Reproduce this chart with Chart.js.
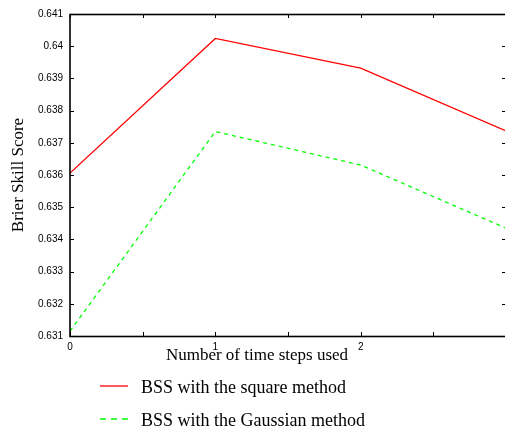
<!DOCTYPE html>
<html>
<head>
<meta charset="utf-8">
<script src="https://cdn.jsdelivr.net/npm/chart.js@4.4.1/dist/chart.umd.min.js"></script>
<style>
  html, body { margin: 0; padding: 0; background: #fff; }
  #wrap { width: 505px; height: 430px; overflow: hidden; }
  canvas { display: block; }
</style>
</head>
<body>
<div id="wrap"><canvas id="bss" width="512" height="430"></canvas></div>
<script>
// time steps used and the Brier skill score of each method
var steps = [0, 1, 2, 3];
var squareBss = [0.63606, 0.64024, 0.63932, 0.63737];
var gaussianBss = [0.63115, 0.63735, 0.63631, 0.63435];
var stepLabels = ['0', '1', '2'];

var serif = '"Liberation Serif", "Times New Roman", serif';
var sans = '"Liberation Sans", Arial, sans-serif';

function pairs(xs, ys) {
    return xs.map(function(x, i) { return {x: x, y: ys[i]}; });
}

// box round the plot, inward ticks on all four sides, x title and legend
var framePlugin = {
    id: 'frame',
    afterDraw: function(chart) {
        var ctx = chart.ctx;
        var a = chart.chartArea;
        var xs = chart.scales.x, ys = chart.scales.y;
        ctx.save();
        ctx.strokeStyle = '#000';
        ctx.lineWidth = 1;
        ctx.beginPath();
        xs.ticks.forEach(function(t) {
            var px = Math.round(xs.getPixelForValue(t.value)) + 0.5;
            ctx.moveTo(px, a.bottom); ctx.lineTo(px, a.bottom - 4);
            ctx.moveTo(px, a.top); ctx.lineTo(px, a.top + 4);
        });
        ys.ticks.forEach(function(t) {
            var py = Math.round(ys.getPixelForValue(t.value)) + 0.5;
            ctx.moveTo(a.left, py); ctx.lineTo(a.left + 4, py);
            ctx.moveTo(a.right, py); ctx.lineTo(a.right - 4, py);
        });
        ctx.stroke();

        ctx.lineWidth = 1.6;
        ctx.strokeRect(a.left, a.top + 0.5, a.right - a.left, a.bottom - a.top);

        ctx.fillStyle = '#000';
        ctx.font = '17px ' + serif;
        ctx.textAlign = 'center';
        ctx.textBaseline = 'alphabetic';
        ctx.fillText('Number of time steps used', 257, 359.5);

        ctx.font = '18px ' + serif;
        ctx.textAlign = 'left';
        chart.data.datasets.forEach(function(ds, i) {
            var y = 386 + i * 33;
            ctx.save();
            ctx.strokeStyle = ds.borderColor;
            ctx.lineWidth = 1.3;
            ctx.setLineDash(ds.borderDash ? [6, 5] : []);
            ctx.beginPath();
            ctx.moveTo(100, y); ctx.lineTo(128, y);
            ctx.stroke();
            ctx.restore();
            ctx.fillText(ds.label, 141, y + 6.5);
        });
        ctx.restore();
    }
};

new Chart(document.getElementById('bss'), {
    type: 'line',
    data: {
        datasets: [{
            label: 'BSS with the square method',
            data: pairs(steps, squareBss),
            borderColor: '#ff0000',
            borderWidth: 1.3,
            pointRadius: 0,
            tension: 0
        }, {
            label: 'BSS with the Gaussian method',
            data: pairs(steps, gaussianBss),
            borderColor: '#00ff00',
            borderWidth: 1.3,
            borderDash: [4, 4],
            pointRadius: 0,
            tension: 0
        }]
    },
    options: {
        responsive: false,
        animation: false,
        layout: { padding: { left: 0, top: 14, right: 6, bottom: 0 } },
        plugins: {
            legend: { display: false },
            tooltip: { enabled: false }
        },
        scales: {
            x: {
                type: 'linear',
                min: 0,
                max: 3,
                grid: { display: false, drawTicks: false },
                border: { display: false },
                ticks: {
                    stepSize: 0.5,
                    padding: 5,
                    maxRotation: 0,
                    autoSkip: false,
                    color: '#000',
                    font: { family: sans, size: 10 },
                    callback: function(v) {
                        return Number.isInteger(v) && v < stepLabels.length ? stepLabels[v] : '';
                    }
                },
                afterFit: function(s) { s.height = 94; }
            },
            y: {
                min: 0.631,
                max: 0.641,
                grid: { display: false, drawTicks: false },
                border: { display: false },
                ticks: {
                    stepSize: 0.001,
                    padding: 7,
                    color: '#000',
                    font: { family: sans, size: 10 },
                    callback: function(v) { return String(+v.toFixed(3)); }
                },
                title: {
                    display: true,
                    text: 'Brier Skill Score',
                    color: '#000',
                    font: { family: serif, size: 17 },
                    padding: { top: 8, bottom: 0 }
                },
                afterFit: function(s) { s.width = 70; }
            }
        }
    },
    plugins: [framePlugin]
});
</script>
</body>
</html>
